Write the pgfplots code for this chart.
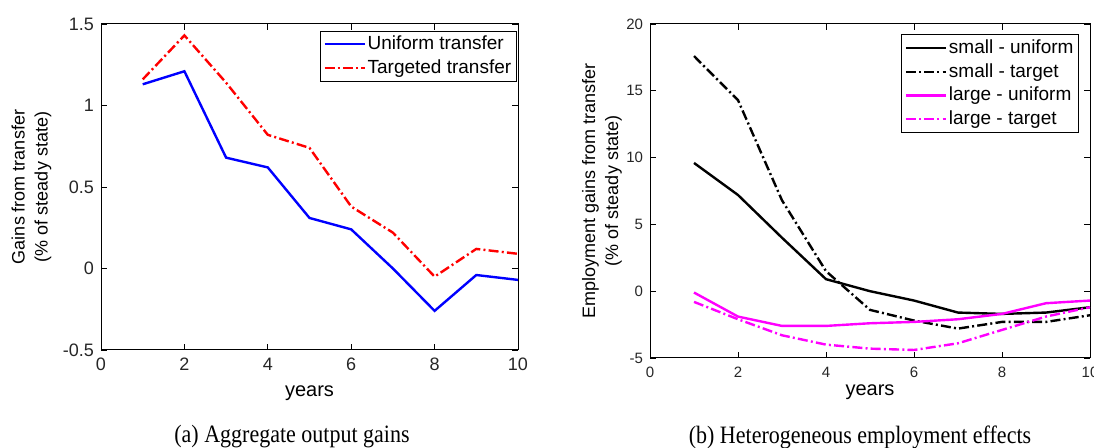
\documentclass[border=0pt]{standalone}
\usepackage{fontspec}
\setmainfont{Liberation Sans}
\newfontfamily\capfont[FakeStretch=0.88]{Liberation Serif}
\usepackage{pgfplots}
\pgfplotsset{compat=1.18}
\definecolor{tickgray}{gray}{0.15}
\definecolor{mag}{rgb}{1,0,1}

\pgfplotstableread{
yr  uni   tgt
1   1.13  1.16
2   1.21  1.43
3   0.68  1.14
4   0.62  0.82
5   0.31  0.74
6   0.24  0.38
7   0.00  0.22
8  -0.26 -0.05
9  -0.04  0.12
10 -0.07  0.09
}\outputgains

\pgfplotstableread{
yr  su    st    lu    lt
1   9.6   17.6  -0.1  -0.8
2   7.2   14.3  -1.9  -2.1
3   4.0   6.8   -2.6  -3.3
4   0.9   1.5   -2.6  -4.0
5   0.0   -1.4  -2.4  -4.3
6   -0.7  -2.2  -2.3  -4.4
7   -1.6  -2.8  -2.1  -3.9
8   -1.7  -2.3  -1.7  -2.9
9   -1.6  -2.3  -0.9  -1.9
10  -1.2  -1.8  -0.7  -1.2
}\employment

\pgfplotsset{
  matlab/.style={
    scale only axis,
    axis line style={black, line width=0.5pt},
    tick style={black, line width=0.4pt},
    tick align=inside,
    major tick length=3pt,
    xmin=0, xmax=10,
    xtick={0,2,...,10},
    ticklabel style={text=tickgray},
    /pgf/number format/assume math mode=true,
    legend cell align=left,
    legend style={draw=black, line width=0.5pt, fill=white, inner xsep=1.5pt, inner ysep=0.5pt,
      row sep=-0.5pt, nodes={inner xsep=1pt}},
    legend image code/.code={\draw[#1, line width=1.1pt] (0pt,0pt) -- (20pt,0pt);},
    every axis plot/.append style={line width=1.2pt},
    xlabel style={font=\fontsize{10}{11}\selectfont, anchor=center},
    ylabel style={font=\fontsize{9}{11.5}\selectfont, align=center, anchor=center},
  },
  dashdot/.style={dash pattern=on 5pt off 1.6pt on 1pt off 1.6pt},
}

\begin{document}
\begin{tikzpicture}
\path[use as bounding box] (0,0) rectangle (547pt,224pt);

\begin{axis}[matlab,
  at={(50.5pt,49pt)}, anchor=south west,
  width=208.5pt, height=163pt,
  ymin=-0.5, ymax=1.5,
  ytick={-0.5,0,0.5,1,1.5},
  yticklabels={-0.5,0,0.5,1,1.5},
  ticklabel style={font=\fontsize{9}{10}\selectfont},
  xticklabel style={yshift=-0.5pt},
  xlabel={years},
  xlabel style={at={(axis description cs:0.5,-0.132)}},
  ylabel={Gains from transfer\\(\% of steady state)},
  ylabel style={at={(axis description cs:-0.167,0.5)}},
  legend style={at={(0.997,0.98)}, anchor=north east, font=\fontsize{9.5}{11}\selectfont},
]
\addplot[blue] table[x=yr, y=uni] {\outputgains};
\addplot[red, dashdot] table[x=yr, y=tgt] {\outputgains};
\legend{Uniform transfer, Targeted transfer}
\end{axis}

\begin{axis}[matlab,
  at={(325pt,45pt)}, anchor=south west,
  width=220pt, height=167pt,
  ymin=-5, ymax=20,
  ytick={-5,0,5,10,15,20},
  ticklabel style={font=\fontsize{7.5}{8}\selectfont},
  xticklabel style={yshift=-1pt},
  xlabel={years},
  xlabel style={at={(axis description cs:0.5,-0.102)}},
  ylabel={Employment gains from transfer\\(\% of steady state)},
  ylabel style={at={(axis description cs:-0.109,0.5)}},
  legend style={at={(0.975,0.97)}, anchor=north east, font=\fontsize{9.5}{11}\selectfont},
]
\addplot[black] table[x=yr, y=su] {\employment};
\addplot[black, dashdot] table[x=yr, y=st] {\employment};
\addplot[mag] table[x=yr, y=lu] {\employment};
\addplot[mag, dashdot] table[x=yr, y=lt] {\employment};
\legend{small - uniform, small - target, large - uniform, large - target}
\end{axis}

\node[font=\capfont\fontsize{12.5}{14}\selectfont] at (146pt,5.5pt) {(a) Aggregate output gains};
\node[font=\capfont\fontsize{12.5}{14}\selectfont] at (430pt,5.5pt) {(b) Heterogeneous employment effects};
\end{tikzpicture}
\end{document}
